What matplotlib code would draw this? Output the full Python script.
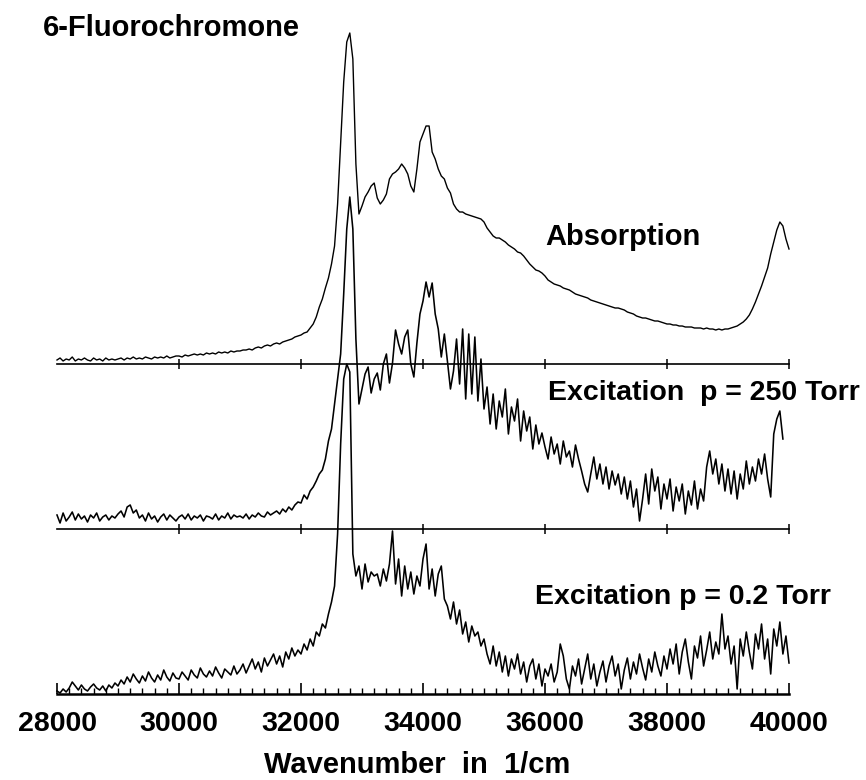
import numpy as np
import matplotlib
matplotlib.use('Agg')
import matplotlib.pyplot as plt
from matplotlib.ticker import MultipleLocator, FuncFormatter

plt.rcParams['font.family'] = ['Liberation Sans', 'DejaVu Sans']

# wavenumber grid (1/cm), one sample every 50 1/cm
wavenumber = np.arange(28000, 40001, 50)

# intensities (arbitrary units, baseline = 0)
absorption = [
    4, 6, 3, 5, 4, 7, 3, 5, 4, 6, 4, 3, 6, 4, 5, 3, 6, 4, 5, 4,
    5, 6, 4, 6, 5, 7, 5, 6, 5, 7, 6, 5, 7, 6, 7, 6, 8, 6, 7, 8,
    8, 7, 9, 8, 9, 10, 9, 10, 9, 11, 10, 11, 10, 12, 11, 12, 11, 13, 12, 13,
    13, 14, 14, 15, 14, 16, 17, 16, 18, 19, 18, 20, 21, 20, 22, 23, 24, 25, 27, 28,
    29, 31, 32, 36, 40, 47, 57, 65, 76, 86, 100, 118, 160, 220, 282, 322, 331, 305, 200, 150,
    158, 167, 172, 178, 181, 166, 160, 164, 170, 185, 190, 192, 195, 200, 196, 190, 178, 172, 195, 222,
    230, 238, 238, 212, 205, 195, 188, 185, 176, 171, 160, 155, 152, 152, 150, 149, 148, 147, 146, 145,
    142, 136, 132, 128, 126, 126, 124, 122, 119, 117, 115, 112, 111, 108, 104, 100, 97, 94, 93, 91,
    88, 84, 82, 80, 79, 78, 76, 75, 74, 72, 70, 69, 68, 67, 66, 64, 63, 62, 61, 60,
    59, 58, 57, 56, 56, 55, 54, 52, 51, 50, 48, 47, 46, 46, 45, 44, 43, 43, 42, 41,
    40, 40, 39, 39, 38, 38, 37, 37, 37, 36, 36, 36, 35, 36, 35, 35, 34, 35, 34, 35,
    35, 36, 37, 38, 40, 42, 45, 49, 55, 62, 70, 78, 87, 96, 110, 122, 134, 142, 138, 125,
    115,
]

nan = float('nan')
excitation_250 = [
    14, 6, 16, 8, 12, 17, 9, 15, 10, 13, 7, 14, 11, 16, 8, 12, 14, 9, 13, 11,
    15, 18, 12, 22, 24, 16, 19, 11, 14, 8, 16, 10, 13, 7, 12, 15, 9, 14, 11, 8,
    12, 14, 10, 15, 9, 13, 11, 14, 8, 13, 12, 10, 15, 9, 13, 11, 16, 10, 14, 12,
    13, 11, 15, 10, 14, 12, 16, 13, 12, 17, 14, 16, 18, 15, 20, 17, 22, 19, 24, 27,
    26, 34, 30, 38, 42, 48, 55, 59, 70, 88, 100, 125, 150, 175, 235, 300, 332, 300, 190, 125,
    140, 155, 162, 136, 150, 156, 139, 165, 175, 146, 166, 199, 185, 175, 192, 199, 165, 152, 186, 215,
    228, 247, 232, 246, 215, 200, 172, 195, 168, 140, 158, 190, 145, 200, 130, 195, 135, 192, 128, 170,
    120, 142, 105, 135, 100, 128, 112, 140, 95, 122, 108, 130, 88, 118, 98, 112, 80, 104, 85, 96,
    82, 70, 92, 75, 85, 65, 88, 72, 78, 62, 84, 70, 58, 45, 37, 55, 72, 50, 65, 45,
    62, 40, 58, 44, 55, 35, 52, 30, 48, 22, 40, 8, 30, 55, 25, 60, 38, 52, 20, 45,
    30, 50, 18, 42, 28, 45, 15, 38, 24, 48, 20, 40, 28, 62, 78, 55, 70, 45, 65, 38,
    60, 35, 58, 30, 55, 40, 68, 45, 62, 48, 70, 55, 75, 50, 32, 95, 110, 118, 90, nan,
    nan,
]

excitation_02 = [
    3, 1, 5, 2, 6, 12, 8, 4, 9, 5, 3, 7, 10, 6, 4, 8, 3, 9, 6, 11,
    8, 14, 10, 17, 12, 20, 15, 11, 18, 13, 22, 16, 12, 19, 14, 24, 17, 13, 21, 16,
    15, 22, 18, 14, 24, 19, 16, 26, 20, 17, 23, 18, 27, 21, 16, 25, 22, 19, 28, 20,
    24, 30, 21, 28, 35, 25, 32, 22, 36, 28, 34, 40, 30, 38, 27, 42, 35, 46, 38, 44,
    40, 50, 44, 55, 48, 62, 58, 70, 66, 80, 92, 108, 160, 250, 315, 330, 322, 140, 118, 128,
    105, 130, 112, 122, 118, 120, 108, 125, 113, 130, 163, 110, 135, 98, 128, 105, 122, 100, 118, 108,
    135, 150, 105, 125, 98, 120, 128, 95, 88, 75, 92, 70, 84, 60, 72, 52, 68, 58, 62, 48,
    55, 40, 30, 48, 28, 42, 22, 38, 18, 35, 25, 40, 20, 32, 12, 28, 35, 15, 30, 8,
    25, 18, 30, 12, 22, 50, 38, 15, 5, 28, 18, 35, 10, 25, 40, 15, 30, 8, 22, 33,
    12, 28, 38, 18, 30, 5, 24, 36, 15, 32, 20, 40, 26, 14, 35, 22, 42, 28, 18, 38,
    25, 45, 30, 50, 20, 42, 55, 32, 15, 48, 36, 58, 28, 44, 62, 35, 52, 40, 80, 45,
    58, 30, 48, 5, 55, 38, 62, 42, 25, 60, 45, 70, 35, 55, 20, 65, 48, 72, 40, 58,
    31,
]

# vertical offsets of the stacked spectra
offset_abs = 330
offset_250 = 165
offset_02 = 0

baseline_ticks = [30000, 32000, 34000, 36000, 38000, 40000]

W, H = 866, 780
fig = plt.figure(figsize=(W / 100, H / 100), dpi=100)
ax = fig.add_axes([57 / W, 1 - 694 / H, 732 / W, 680 / H])

ax.plot(wavenumber, np.array(absorption) + offset_abs, color='black', lw=1.0, clip_on=False)
ax.plot(wavenumber, np.array(excitation_250) + offset_250, color='black', lw=1.15, clip_on=False)
ax.plot(wavenumber, np.array(excitation_02) + offset_02, color='black', lw=1.15, clip_on=False)

# baselines of the upper two spectra with small ticks
for off in (offset_abs, offset_250):
    ax.plot([28000, 40000], [off, off], color='black', lw=1.2, clip_on=False)
    ax.plot(baseline_ticks, [off] * len(baseline_ticks), ls='none', marker='|',
            ms=7, mew=1.1, color='black', clip_on=False)

ax.set_xlim(28000, 40000)
ax.set_ylim(0, 680)
for side in ('top', 'left', 'right'):
    ax.spines[side].set_visible(False)
ax.spines['bottom'].set_linewidth(1.8)
ax.set_yticks([])

ax.xaxis.set_major_locator(MultipleLocator(2000))
ax.xaxis.set_minor_locator(MultipleLocator(200))
ax.xaxis.set_major_formatter(FuncFormatter(lambda v, p: '%d' % v))
ax.tick_params(axis='x', which='major', direction='in', length=8, width=1.2, pad=12)
ax.tick_params(axis='x', which='minor', direction='in', length=4, width=1.0)
for lab in ax.get_xticklabels():
    lab.set_fontsize(20.5)
    lab.set_fontweight('bold')

fig.text(43 / W, 1 - 28 / H, '6-Fluorochromone', ha='left', va='center',
         fontsize=21, fontweight='bold')
fig.text(545 / W, 1 - 237 / H, 'Absorption', ha='left', va='center',
         fontsize=21, fontweight='bold')
fig.text(548 / W, 1 - 393 / H, 'Excitation  p = 250 Torr', ha='left', va='center',
         fontsize=20.5, fontweight='bold')
fig.text(535 / W, 1 - 597 / H, 'Excitation p = 0.2 Torr', ha='left', va='center',
         fontsize=20.5, fontweight='bold')
fig.text(417 / W, 1 - 765 / H, 'Wavenumber  in  1/cm', ha='center', va='center',
         fontsize=21, fontweight='bold')

fig.savefig('out.png', dpi=100, facecolor='white')
